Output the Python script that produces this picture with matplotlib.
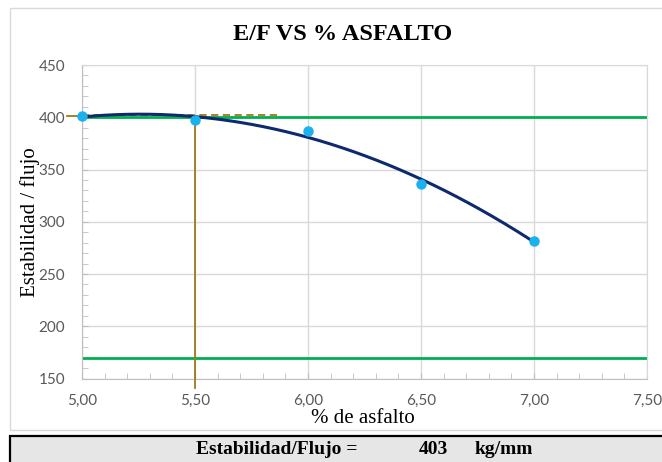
import numpy as np
import matplotlib
matplotlib.use("Agg")
import matplotlib.pyplot as plt
from matplotlib.patches import Rectangle
from matplotlib.ticker import MultipleLocator, FuncFormatter

# ensayo Marshall: % de asfalto vs estabilidad/flujo
asfalto = [5.0, 5.5, 6.0, 6.5, 7.0]
est_flujo = [401, 397, 387, 336, 282]
limite_sup = 400
limite_inf = 170
asf_optimo = 5.5
ef_max = 403
asf_max_linea = 5.87

# curva de tendencia (polinomica de grado 2, como en Excel)
coef = np.polyfit(asfalto, est_flujo, 2)
xs = np.linspace(asfalto[0], asfalto[-1], 200)
ys = np.polyval(coef, xs)

serif = ["Liberation Serif", "DejaVu Serif"]
sans = ["Lato", "DejaVu Sans"]

fig = plt.figure(figsize=(6.62, 4.62), dpi=100)
ax = fig.add_axes([0.1239, 0.1807, 0.9773 - 0.1239, 0.8593 - 0.1807])

ax.set_xlim(5.0, 7.5)
ax.set_ylim(150, 450)
ax.xaxis.set_major_locator(MultipleLocator(0.5))
ax.xaxis.set_minor_locator(MultipleLocator(0.1))
ax.yaxis.set_major_locator(MultipleLocator(50))
ax.yaxis.set_minor_locator(MultipleLocator(10))
ax.xaxis.set_major_formatter(FuncFormatter(lambda v, p: f"{v:.2f}".replace(".", ",")))
ax.grid(True, which="major", color="#d9d9d9", lw=1)
ax.set_axisbelow(True)
for s in ["top", "right"]:
    ax.spines[s].set_color("#d9d9d9")
for s in ["left", "bottom"]:
    ax.spines[s].set_color("#bfbfbf")
ax.tick_params(which="both", direction="in", color="#bfbfbf", labelcolor="#595959",
               labelsize=11, top=False, right=False)
ax.tick_params(which="major", length=4)
ax.tick_params(which="minor", length=4)
ax.tick_params(axis="x", pad=11)
ax.tick_params(axis="y", pad=12)
for lab in ax.get_xticklabels() + ax.get_yticklabels():
    lab.set_family(sans)

# limites
ax.axhline(limite_sup, color="#00b050", lw=2, zorder=2)
ax.axhline(limite_inf, color="#00b050", lw=2, zorder=2)

# lineas del contenido optimo
brown = "#9b7a1a"
ax.plot([4.935, asfalto[0]], [401.5, 401.5], color=brown, lw=1.3, clip_on=False, zorder=3)
ax.plot([asfalto[0], asf_max_linea], [402, 402], color=brown, lw=1.3, ls=(0, (4, 2.5)), zorder=3)
ax.plot([asf_optimo, asf_optimo], [limite_sup, 141], color=brown, lw=1.3, clip_on=False, zorder=3)

# curva y puntos
ax.plot(xs, ys, color="#0e2a6e", lw=2.2, zorder=4)
ax.plot(asfalto, est_flujo, "o", color="#1bb0ee", ms=6.5, zorder=5, clip_on=False)

fig.text(0.517, 0.926, "E/F VS % ASFALTO", ha="center", va="center",
         family=serif, fontsize=17.5, fontweight="bold")
ax.set_xlabel("% de asfalto", family=serif, fontsize=15)
ax.set_ylabel("Estabilidad / flujo", family=serif, fontsize=15)
ax.xaxis.set_label_coords((363 - 82) / 565, (378.5 - 418) / 313.5)
ax.yaxis.set_label_coords((30 - 82) / 565, 0.5)
ax.xaxis.label.set_va("center")
ax.yaxis.label.set_va("center")

# marco del grafico
fig.patches.append(Rectangle((10 / 662, 1 - 430 / 462), 1, 422 / 462, transform=fig.transFigure,
                             fill=False, edgecolor="#d9d9d9", lw=1))
# recuadro de resultado
fig.patches.append(Rectangle((10 / 662, -0.05), 1, (462 - 436) / 462 + 0.05,
                             transform=fig.transFigure, facecolor="#e6e6e6",
                             edgecolor="black", lw=1.6))
ty = 1 - 450 / 462
fig.text(277 / 662, ty, "Estabilidad/Flujo =", ha="center", va="center",
         family=serif, fontsize=14, fontweight="bold")
fig.text(433 / 662, ty, f"{ef_max}", ha="center", va="center",
         family=serif, fontsize=14, fontweight="bold")
fig.text(504 / 662, ty, "kg/mm", ha="center", va="center",
         family=serif, fontsize=14, fontweight="bold")

fig.savefig("out.png", dpi=100)
